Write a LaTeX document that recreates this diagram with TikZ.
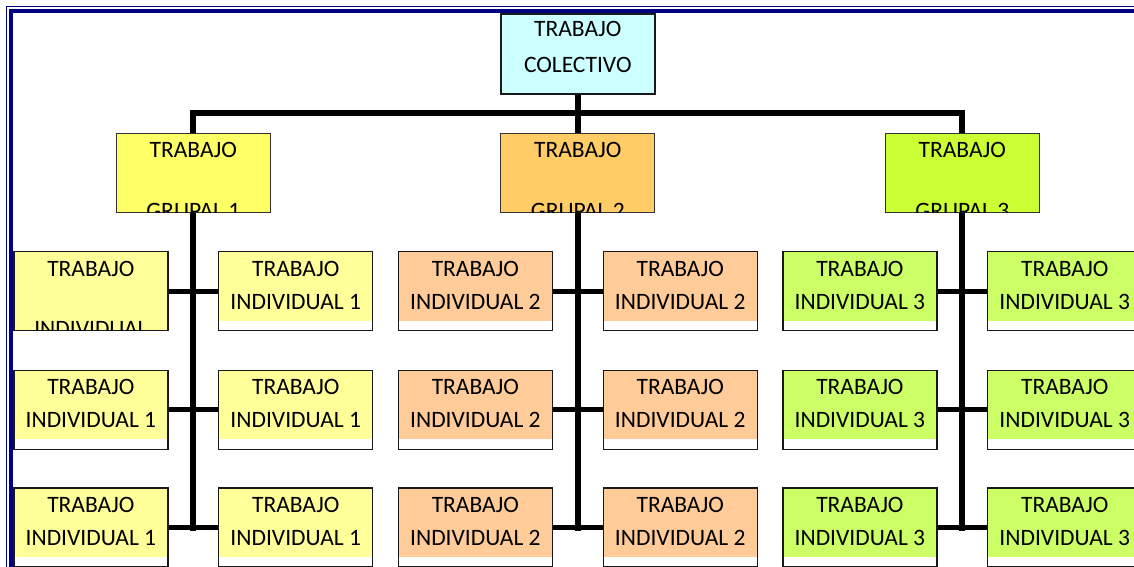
\documentclass[tikz,border=0pt]{standalone}
\usepackage{fontspec}
\setmainfont{Carlito}
\usetikzlibrary{calc}
\definecolor{frameblue}{HTML}{000080}
\definecolor{topc}{HTML}{CCFFFF}
\definecolor{g1c}{HTML}{FFFF66}
\definecolor{g2c}{HTML}{FFCC66}
\definecolor{g3c}{HTML}{CCFF33}
\definecolor{i1c}{HTML}{FFFF99}
\definecolor{i2c}{HTML}{FFCC99}
\definecolor{i3c}{HTML}{CCFF66}
\pgfdeclarelayer{bg}
\pgfsetlayers{bg,main}
\tikzset{
  conn/.style={line width=6pt},
  hconn/.style={line width=5pt},
  box/.style={draw=black!90, line width=1.4pt, minimum width=154pt, minimum height=79pt, inner sep=0pt, outer sep=0pt},
  ibox/.style={box, fill=white, path picture={\fill[#1] (path picture bounding box.north west) rectangle ([yshift=10pt]path picture bounding box.south east);}},
  fullbox/.style={box, fill=#1},
  gbox/.style={box, fill=#1, draw=black!80, line width=1pt, minimum height=79.5pt},
  lbl/.style={anchor=base, inner sep=0pt, font=\fontsize{23.5}{28}\selectfont, text=black},
}
\begin{document}
\begin{tikzpicture}[x=1pt,y=-1pt]
\useasboundingbox (0,0) rectangle (1134,567);
% top box
\node[fullbox=topc, minimum height=80pt] (top) at (577.8,54) {};
\node[lbl] (ttop1) at ($(top.north)+(0,23)$) {TRABAJO};
\node[lbl] (ttop2) at ($(top.north)+(0,59)$) {COLECTIVO};
% groups and individual boxes
\foreach \g/\cx/\gc/\ic in {1/193.3/g1c/i1c, 2/577.8/g2c/i2c, 3/962.3/g3c/i3c} {
  \node[gbox=\gc] (g\g) at (\cx,172.9) {};
  \node[lbl] (tg\g) at ($(g\g.north)+(0,24.3)$) {TRABAJO};
  \begin{scope}
    \clip ([shift={(0.6pt,-0.6pt)}]g\g.north west) rectangle ([shift={(-0.6pt,0.6pt)}]g\g.south east);
    \node[lbl] (tgb\g) at ($(g\g.north)+(0,85.3)$) {GRUPAL \g};
  \end{scope}
  \foreach \rw/\cy in {1/291.2, 2/409.7, 3/527.5} {
    \ifnum\g\rw=11
      \node[fullbox=\ic] (i\g\rw l) at (\cx-102.4,\cy) {};
      \node[lbl] (ta\g\rw l) at ($(i\g\rw l.north)+(0,24.3)$) {TRABAJO};
      \begin{scope}
        \clip ([shift={(0.7pt,-0.7pt)}]i\g\rw l.north west) rectangle ([shift={(-0.7pt,0.7pt)}]i\g\rw l.south east);
        \node[lbl] (tb\g\rw l) at ($(i\g\rw l.north)+(0,85)$) {INDIVIDUAL};
      \end{scope}
    \else
      \node[ibox=\ic] (i\g\rw l) at (\cx-102.4,\cy) {};
      \node[lbl] (ta\g\rw l) at ($(i\g\rw l.north)+(0,24.3)$) {TRABAJO};
      \node[lbl] (tb\g\rw l) at ($(i\g\rw l.north)+(0,57.5)$) {INDIVIDUAL \g};
    \fi
    \node[ibox=\ic] (i\g\rw r) at (\cx+102.4,\cy) {};
    \node[lbl] (ta\g\rw r) at ($(i\g\rw r.north)+(0,24.3)$) {TRABAJO};
    \node[lbl] (tb\g\rw r) at ($(i\g\rw r.north)+(0,57.5)$) {INDIVIDUAL \g};
  }
}
\begin{pgfonlayer}{bg}
  % frame
  \draw[frameblue, line width=1pt] (6.5,6.5) rectangle (1200,600);
  \draw[frameblue, line width=4pt] (10.8,10.8) rectangle (1200,600);
  % connectors
  \coordinate (hub) at (577.8,113);
  \draw[conn] (top.south) -- (hub);
  \draw[conn] (hub) -| (g1.north);
  \draw[conn] (hub) -| (g3.north);
  \draw[conn] (hub) -- (g2.north);
  \foreach \g in {1,2,3} {
    \draw[conn, line cap=rect] (g\g.south) -- (g\g.south |- i\g3l.east);
    \foreach \rw in {1,2,3} {
      \draw[hconn] (i\g\rw l.east) -- (i\g\rw r.west);
    }
  }
\end{pgfonlayer}
\end{tikzpicture}
\end{document}
